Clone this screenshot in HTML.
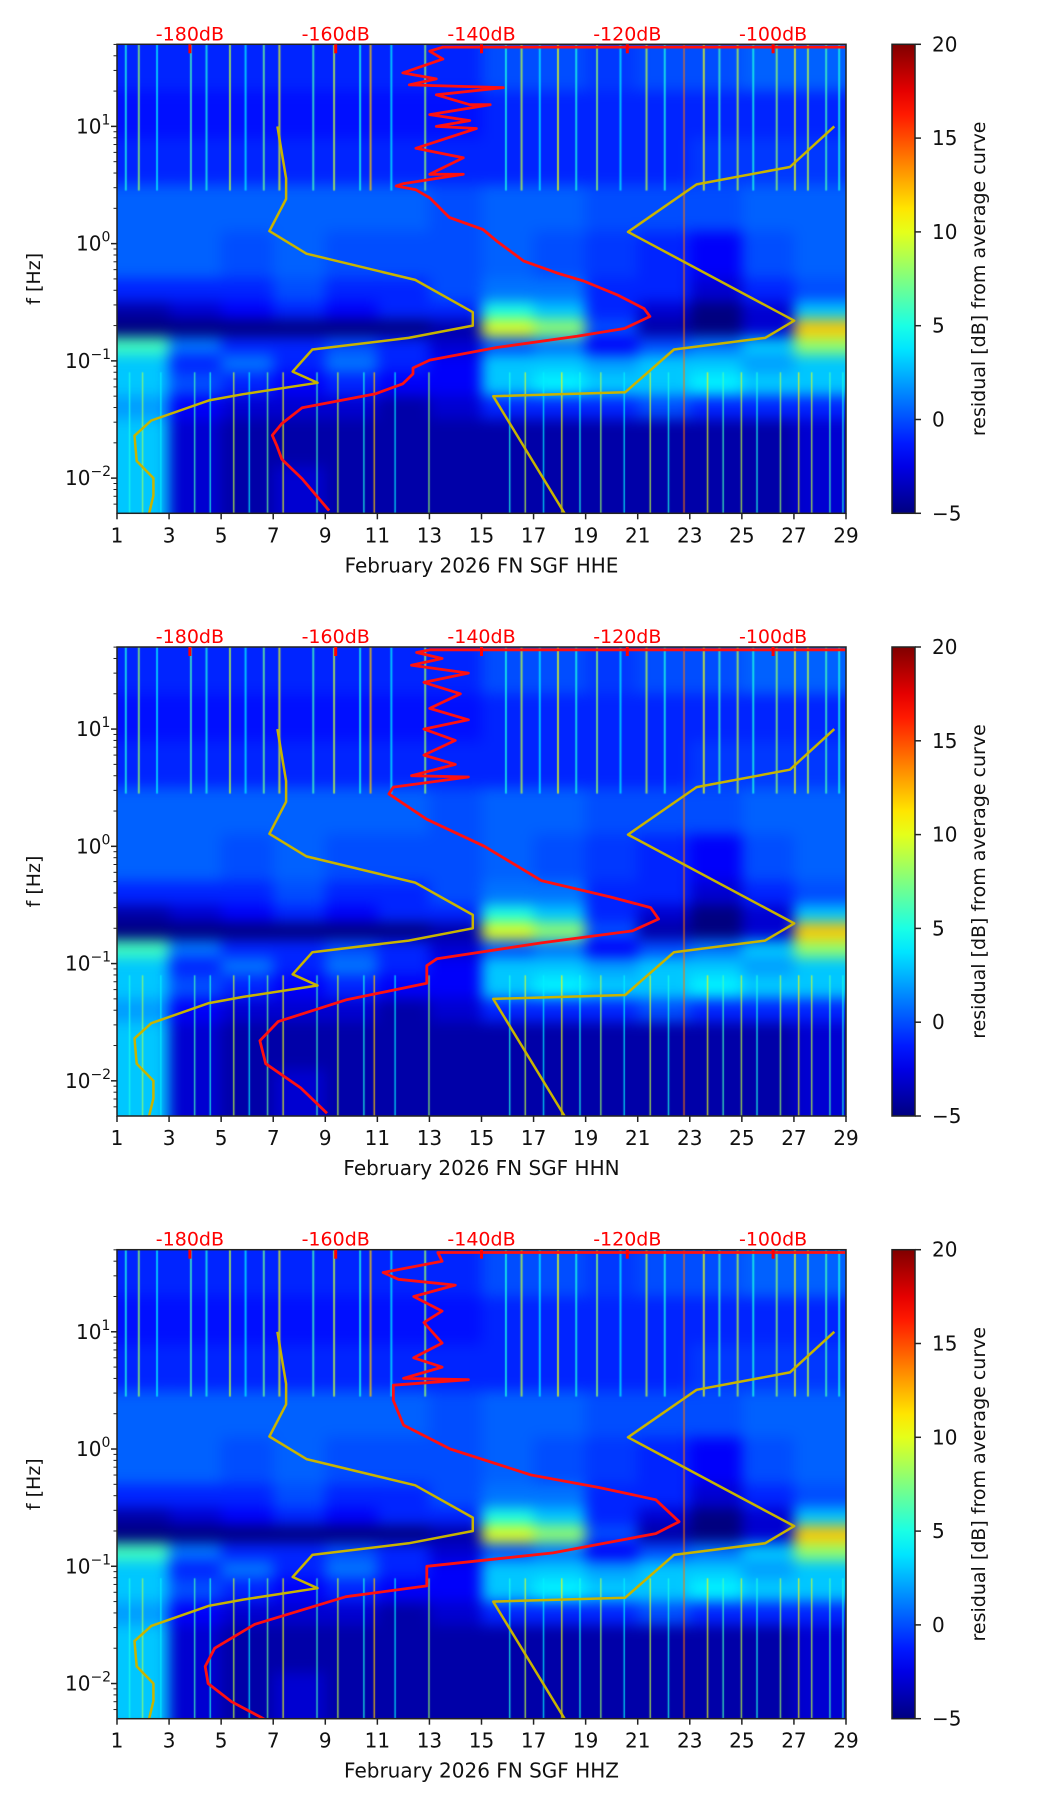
<!DOCTYPE html>
<html><head><meta charset="utf-8">
<style>
html,body{margin:0;padding:0;background:#fff;}
#wrap{position:relative;width:1052px;height:1806px;overflow:hidden;font-family:"DejaVu Sans","Liberation Sans",sans-serif;}
canvas{position:absolute;}
svg{position:absolute;left:0;top:0;}
</style></head>
<body>
<div id="wrap">
<svg id="svg" width="1052" height="1806"></svg>
</div>
<script>
// ---------- data ----------
const panelNames = ["HHE","HHN","HHZ"];
const dayTicks = [1,3,5,7,9,11,13,15,17,19,21,23,25,27,29];
const dbTicks = [-180,-160,-140,-120,-100];
const yTickExps = [1,0,-1,-2];
const cbTicks = [20,15,10,5,0,-5];

// residual heatmap (rows: log10 f bands top->bottom, cols: 2-day bins)
const bandLogEdges = [1.7,1.3,0.9,0.5,0.1,-0.3,-0.5,-0.65,-0.8,-0.95,-1.1,-1.3,-1.5,-1.9,-2.3];
const dayBinEdges = [1,3,5,7,9,11,13,15,17,19,21,23,25,27,29];
const residualRows = [
 [-1,-1,-1,-1,-1,-1,-1,0,0,-0.5,0,0,0.5,0.5],
 [-1.5,-1.5,-1.5,-1.5,-1.5,-1.5,-1.5,-1,-1,-1,-1,-1,-1,-1],
 [-1,-1,-1,-1,-1,-1,-1,-1,-1,-1,-1,-0.5,-0.5,-0.5],
 [0.5,0.5,0.5,0.5,0.5,0.5,0,0.5,0.5,0,0,0,0.5,0.5],
 [0.5,0.5,0,0.5,0,0,0,0.5,0,-0.5,-1,-2,0,0.5],
 [-1,-1,-1,0,-1,-1,0,1,1,-1,-1,-3,-1,0],
 [-4,-3,-2,-1,-2,-1,-1,5,3,-1,-3,-5,-3,3],
 [-5,-5,-5,-5,-5,-5,-4,10,8,0,-4,-5,-3,12],
 [6,1,-1,-1,0,-1,-3,0,1,-2,0,1,3,8],
 [3,-1,1,-1,1,-1,-2,3,3,2,3,3,2,3],
 [3,0,-1,-2,-1,-2,-2,3,4,3,3,4,3,3],
 [2,-2,-3,-3,-3,-4,-3,-1,-1,-1,0,-1,-1,-1],
 [3,-3,-4,-4,-4,-4,-4,-4,-4,-4,-4,-4,-4,-3],
 [3,-3,-4,-3,-4,-4,-4,-4,-4,-4,-4,-4,-4,-3]
];
const streakDays = [1.3,1.8,2.5,3.8,4.4,5.3,5.9,6.6,7.2,8.5,9.3,10.3,10.7,11.5,12.8,15.9,16.5,17.2,17.9,18.6,19.4,20.3,21.3,22.0,23.5,24.1,24.8,25.4,26.3,27.0,27.5,28.2,28.7];
const streakLevels = [5,8,4,6,5,9,4,7,10,6,9,5,12,4,8,5,9,4,10,5,8,4,9,5,10,6,9,5,8,10,9,6,5];
const hotLineDay = 22.75;

// PSD curves (frequency Hz, dB)
const redHHE_f = [47.4,47.4,43.8,37.5,28.6,25.4,22.6,21.4,18.6,15.3,15.3,12.6,11.2,10,9.6,6.5,5.4,3.9,3.9,3.24,3.1,2.88,2.46,1.67,1.32,1.05,0.71,0.56,0.48,0.366,0.279,0.239,0.189,0.162,0.130,0.1016,0.087,0.0774,0.0637,0.0525,0.0399,0.0292,0.0232,0.019,0.0145,0.00984,0.00528];
const redHHE_db = [-90.1,-145.3,-147.1,-145.3,-150.8,-146.2,-149.9,-137.0,-146.2,-141.6,-138.8,-147.1,-141.6,-146.2,-140.7,-149.0,-142.5,-147.1,-142.5,-150.8,-151.7,-149.0,-147.1,-144.4,-139.8,-137.9,-134.2,-129.6,-126.0,-121.4,-117.7,-116.9,-120.4,-126.9,-137.9,-147.1,-149.4,-149.4,-150.8,-154.5,-164.6,-167.4,-168.7,-168.1,-167.4,-164.6,-160.9];
const redHHN_f = [47.4,47.4,45,40,35,30,25,20,15,12,10,8,6,5,4,3.9,3.2,2.8,1.7,1.0,0.51,0.37,0.30,0.24,0.19,0.15,0.11,0.096,0.068,0.049,0.032,0.022,0.014,0.0087,0.0053];
const redHHN_db = [-90.1,-147,-148.9,-145.4,-149.6,-141.8,-147.9,-142.9,-147.1,-141.8,-147.9,-143.6,-147.9,-143.6,-149.6,-141.8,-152.1,-152.7,-147.5,-139.6,-131.8,-122.3,-116.8,-115.7,-119.3,-131.8,-146.1,-147.5,-147.5,-158.6,-167.9,-170.4,-169.6,-164.8,-161.2];
const redHHZ_f = [47.4,47.4,40,32,28,25,20,15,12,8,6,5,4,3.9,3.5,2.6,1.6,1.0,0.6,0.47,0.37,0.24,0.19,0.13,0.1,0.068,0.055,0.032,0.02,0.014,0.01,0.007,0.0049];
const redHHZ_db = [-90.1,-146,-145.4,-153.5,-151.4,-143.6,-149.3,-145.4,-147.9,-145.4,-149.3,-145.4,-150.7,-141.8,-152.1,-152.1,-150.7,-144.3,-133.2,-123.9,-116.1,-112.9,-116.1,-130.2,-147.5,-147.5,-158.6,-171.1,-176.6,-177.9,-177.5,-174.3,-169.6];
const nlnm_f = [10,3.6,2.4,1.28,0.82,0.49,0.26,0.2,0.157,0.125,0.081,0.065,0.052,0.046,0.031,0.023,0.014,0.01,0.0071,0.005];
const nlnm_db = [-168.0,-166.8,-166.8,-169.1,-164.0,-149.1,-141.2,-141.2,-150.0,-163.2,-165.9,-162.5,-172.7,-177.4,-185.3,-187.6,-187.3,-185.0,-185.0,-185.6];
const nhnm_f = [10,4.5,3.2,1.26,0.22,0.157,0.125,0.054,0.05,0.005];
const nhnm_db = [-91.6,-97.7,-110.5,-119.9,-97.1,-101.1,-113.6,-120.3,-138.4,-128.6];
const redCurves = [[redHHE_f,redHHE_db],[redHHN_f,redHHN_db],[redHHZ_f,redHHZ_db]];

// ---------- layout ----------
const L=117, R=846, H=469, TOP0=44.3, STEP=602.7;
const CBL=892, CBR=915;
const LOGMAX=1.7, LOGMIN=-2.3;
const NS="http://www.w3.org/2000/svg";
const svg=document.getElementById('svg');
const wrap=document.getElementById('wrap');
function xDay(d){return L+(d-1)/28*(R-L);}
function xDb(db){return L+(db+190)/100*(R-L);}
function yF(f,top){return top+(LOGMAX-Math.log10(f))/(LOGMAX-LOGMIN)*H;}
function yLog(lg,top){return top+(LOGMAX-lg)/(LOGMAX-LOGMIN)*H;}
function jet(v){
  let t=(v+5)/25; t=Math.max(0,Math.min(1,t));
  const c=x=>Math.round(255*Math.max(0,Math.min(1,1.5-Math.abs(4*t-x))));
  return `rgb(${c(3)},${c(2)},${c(1)})`;
}
function mk(tag,attrs,parent){const e=document.createElementNS(NS,tag);for(const k in attrs)e.setAttribute(k,attrs[k]);(parent||svg).appendChild(e);return e;}
function txt(s,attrs,parent){const e=mk('text',attrs,parent);e.textContent=s;return e;}

panelNames.forEach((name,pi)=>{
  const top=TOP0+pi*STEP, bot=top+H;
  const cv=document.createElement('canvas');
  cv.width=R-L; cv.height=H;
  cv.style.left=L+'px'; cv.style.top=top+'px';
  
  
  wrap.insertBefore(cv,svg);
  const pad=30;
  const off=document.createElement('canvas');
  off.width=cv.width+2*pad; off.height=H+2*pad;
  const oc=off.getContext('2d');
  for(let r=0;r<residualRows.length;r++){
    for(let c=0;c<dayBinEdges.length-1;c++){
      let x0=xDay(dayBinEdges[c])-L+pad, x1=xDay(dayBinEdges[c+1])-L+pad;
      let y0=yLog(bandLogEdges[r],0)+pad, y1=yLog(bandLogEdges[r+1],0)+pad;
      if(c===0)x0=0; if(c===dayBinEdges.length-2)x1=off.width;
      if(r===0)y0=0; if(r===residualRows.length-1)y1=off.height;
      oc.fillStyle=jet(residualRows[r][c]);
      oc.fillRect(x0,y0,x1-x0+1,y1-y0+1);
    }
  }
  const ctx=cv.getContext('2d');
  ctx.filter='blur(7px)';
  ctx.drawImage(off,-pad,-pad);
  ctx.filter='none';
  streakDays.forEach((d,i)=>{
    const x=xDay(d)-L;
    ctx.globalAlpha=0.75;
    ctx.fillStyle=jet(streakLevels[i]);
    ctx.fillRect(x,0,2,yLog(0.45,0));
    ctx.fillRect(x+4,yLog(-1.1,0),1.5,H);
    ctx.globalAlpha=1;
  });
  ctx.globalAlpha=0.7;
  ctx.fillStyle=jet(14);
  ctx.fillRect(xDay(hotLineDay)-L,0,1.5,H);
  ctx.globalAlpha=1;

  const g=mk('g',{});
  const cid='clip'+pi;
  const cp=mk('clipPath',{id:cid},g); mk('rect',{x:L,y:top,width:R-L,height:H},cp);
  const curves=mk('g',{'clip-path':`url(#${cid})`,},g);
  const line=(fs,dbs,color,w,dn)=>{
    const p=fs.map((f,i)=>`${xDb(dbs[i]).toFixed(1)},${yF(f,top).toFixed(1)}`).join(' ');
    const e=mk('polyline',{points:p,fill:'none',stroke:color,'stroke-width':w,'stroke-linejoin':'round'},curves);
    
    
  };
  line(nlnm_f,nlnm_db,'#c8b400',2.5,'nlnm-curve');
  line(nhnm_f,nhnm_db,'#c8b400',2.5,'nhnm-curve');
  line(redCurves[pi][0],redCurves[pi][1],'#ff1010',2.8,'psd-curve-'+name.toLowerCase());
  mk('rect',{x:L,y:top,width:R-L,height:H,fill:'none',stroke:'#222','stroke-width':1.5,},g);
  dbTicks.forEach(db=>{
    const x=xDb(db);
    mk('rect',{x:x-1.5,y:top,width:3,height:9,fill:'#ff0000'},g);
    const t=txt(db+'dB',{x:x,y:top-4,'text-anchor':'middle','font-size':19,fill:'#ff0000'},g);
    
    
  });
  dayTicks.forEach(d=>{
    const x=xDay(d);
    mk('line',{x1:x,x2:x,y1:bot,y2:bot+6,stroke:'#222','stroke-width':1.5},g);
    const t=txt(String(d),{x:x,y:bot+29,'text-anchor':'middle','font-size':20,fill:'#111'},g);
    
    
  });
  const xl=txt('February 2026 FN SGF  '+name,{x:(L+R)/2,y:bot+59,'text-anchor':'middle','font-size':20,fill:'#111','xml:space':'preserve'},g);
  
  
  for(let e=-3;e<=1;e++){
    for(let m=1;m<10;m++){
      const lg=e+Math.log10(m);
      if(lg<LOGMIN||lg>LOGMAX)continue;
      const y=yLog(lg,top);
      mk('line',{x1:L,x2:L-(m===1?6:3.5),y1:y,y2:y,stroke:'#222','stroke-width':m===1?1.5:1},g);
    }
  }
  yTickExps.forEach(ex=>{
    const y=yLog(ex,top);
    const t=txt('10',{x:L-30,y:y+7,'text-anchor':'end','font-size':20,fill:'#111'},g);
    const s=document.createElementNS(NS,'tspan');
    s.setAttribute('font-size',14); s.setAttribute('dy',-9);
    s.textContent=ex<0?'\u2212'+(-ex):String(ex);
    t.appendChild(s);
    t.setAttribute('text-anchor','start');
    t.setAttribute('x',L-(ex<0?52:41));
    
    
  });
  const yl=txt('f [Hz]',{x:0,y:0,transform:`translate(40,${top+H/2}) rotate(-90)`,'text-anchor':'middle','font-size':19,fill:'#111'},g);
  
  
  const gid='cbg'+pi;
  const defs=mk('defs',{},g);
  const lg=mk('linearGradient',{id:gid,x1:0,y1:1,x2:0,y2:0},defs);
  for(let i=0;i<=20;i++){const v=-5+25*i/20;mk('stop',{offset:i/20,'stop-color':jet(v)},lg);}
  mk('rect',{x:CBL,y:top,width:CBR-CBL,height:H,fill:`url(#${gid})`,stroke:'#222','stroke-width':1.5,},g);
  cbTicks.forEach(v=>{
    const y=top+(20-v)/25*H;
    mk('line',{x1:CBR,x2:CBR+6,y1:y,y2:y,stroke:'#222','stroke-width':1.5},g);
    const t=txt(v<0?'\u2212'+(-v):String(v),{x:CBR+17,y:y+7,'font-size':20,fill:'#111'},g);
    
    
  });
  const cl=txt('residual [dB] from average curve',{x:0,y:0,transform:`translate(985,${top+H/2}) rotate(-90)`,'text-anchor':'middle','font-size':19,fill:'#111'},g);
  
  
});
</script>
</body></html>
